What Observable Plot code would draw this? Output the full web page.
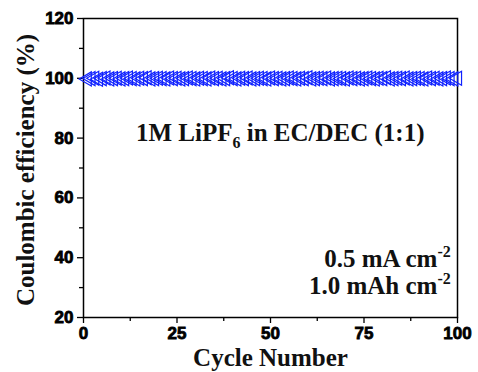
<!DOCTYPE html>
<html><head><meta charset="utf-8">
<script src="https://cdn.jsdelivr.net/npm/d3@7"></script>
<script src="https://cdn.jsdelivr.net/npm/@observablehq/plot@0.6"></script>
<style>body{margin:0;background:#fff} #chart svg text{font-weight:bold !important}</style>
</head><body><div id="chart"></div>
<script>
const cycles = d3.range(1, 101);
const efficiency = [
 99.8, 99.9, 100.0, 99.7, 99.9, 100.1, 99.8, 99.9, 100.0, 99.8,
 99.9, 100.1, 99.9, 99.8, 100.0, 99.9, 100.2, 99.8, 99.9, 100.0,
 99.9, 99.8, 100.1, 99.9, 100.0, 99.8, 99.9, 100.1, 99.9, 99.8,
 100.0, 99.9, 99.8, 100.1, 99.9, 100.0, 99.8, 99.9, 100.2, 99.9,
 99.8, 100.0, 99.9, 100.1, 99.8, 99.9, 100.0, 99.9, 99.8, 100.1,
 99.9, 100.0, 99.8, 99.9, 100.1, 99.9, 99.8, 100.0, 99.9, 100.2,
 99.8, 99.9, 100.0, 99.9, 100.1, 99.8, 99.9, 100.0, 99.9, 99.8,
 100.1, 99.9, 100.0, 99.8, 99.9, 100.1, 99.9, 99.8, 100.0, 99.9,
 100.2, 99.8, 99.9, 100.0, 99.9, 100.1, 99.8, 99.9, 100.0, 99.9,
 99.8, 100.1, 99.9, 100.0, 99.8, 99.9, 100.1, 99.9, 99.8, 100.0
];
const xTicks = [0, 25, 50, 75, 100];
const xMinor = [12.5, 37.5, 62.5, 87.5];
const yTicks = [20, 40, 60, 80, 100, 120];
const yMinor = [30, 50, 70, 90, 110];
const electrolyte = [{x: 52.6, y: 81.7, parts: [["1M LiPF", ""], ["6", "sub"], [" in EC/DEC (1:1)", ""]]}];
const conditions = [
  {x: 98.2, y: 39.4, parts: [["0.5 mA cm", ""], ["-2", "sup"]]},
  {x: 98.2, y: 30.6, parts: [["1.0 mAh cm", ""], ["-2", "sup"]]}
];

const data = cycles.map((c, i) => ({cycle: c, ce: efficiency[i]}));
const serif = "'Liberation Serif','Times New Roman',serif";
const sans = "'Liberation Sans',Arial,sans-serif";
const joinParts = d => d.parts.map(p => p[0]).join("");

const plot = Plot.plot({
  width: 478, height: 372,
  marginLeft: 83, marginRight: 21, marginTop: 18, marginBottom: 55,
  style: {fontFamily: sans, fontSize: "17px", fontWeight: "bold", color: "#000", background: "#fff"},
  x: {domain: [0, 100]},
  y: {domain: [20, 120]},
  marks: [
    Plot.axisX(xMinor, {tickSize: 4, text: null, label: null, strokeWidth: 1.3}),
    Plot.axisX(xTicks, {tickSize: 6, tickPadding: 3, label: null, strokeWidth: 1.3, fontSize: 17, fontWeight: "bold"}),
    Plot.axisY(yMinor, {tickSize: 4, text: null, label: null, strokeWidth: 1.3}),
    Plot.axisY(yTicks, {tickSize: 6, tickPadding: 4, label: null, strokeWidth: 1.3, fontSize: 17, fontWeight: "bold"}),
    Plot.frame({stroke: "#000", strokeWidth: 1.5}),
    Plot.dot(data, {x: "cycle", y: "ce", symbol: "triangle", rotate: -90, r: 5.2, stroke: "#1022ff", strokeWidth: 1.2, fill: "none"}),
    Plot.text(electrolyte, {x: "x", y: "y", text: joinParts, textAnchor: "middle", fontFamily: serif, fontSize: 25, fill: "#111", className: "anno1"}),
    Plot.text(conditions, {x: "x", y: "y", text: joinParts, textAnchor: "end", fontFamily: serif, fontSize: 25, fill: "#111", className: "anno2"}),
    Plot.text(["Cycle Number"], {frameAnchor: "bottom", textAnchor: "middle", dy: 48, fontFamily: serif, fontSize: 25, fill: "#111"}),
    Plot.text(["Coulombic efficiency (%)"], {frameAnchor: "left", textAnchor: "middle", dx: -58, dy: 2, rotate: -90, fontFamily: serif, fontSize: 25, fill: "#111"})
  ]
});

// heavier tick labels (Arial-Black-like look of the reference)
d3.select(plot).selectAll('g[aria-label$="tick label"] text')
  .attr("stroke", "#000").attr("stroke-width", 0.8).attr("paint-order", "stroke");

function richify(cls, rows) {
  d3.select(plot).selectAll(`g.${cls} text`).each(function(_, i) {
    const t = d3.select(this);
    t.text(null);
    let shift = 0;
    rows[i].parts.forEach(([s, kind]) => {
      const ts = t.append("tspan").text(s);
      if (kind === "sub") { ts.attr("font-size", 16).attr("dy", 7); shift = 7; }
      else if (kind === "sup") { ts.attr("font-size", 16).attr("dy", -10); shift = -10; }
      else if (shift !== 0) { ts.attr("dy", -shift); shift = 0; }
    });
  });
}
richify("anno1", electrolyte);
richify("anno2", conditions);
document.getElementById("chart").append(plot);
</script>
</body></html>
